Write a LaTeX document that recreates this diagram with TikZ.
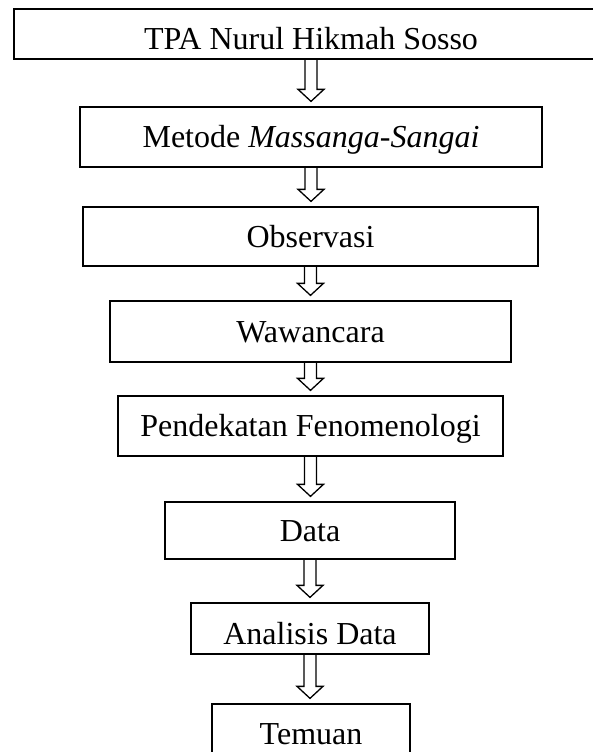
\documentclass[tikz,border=0pt]{standalone}
\usepackage{fontspec}
\setmainfont{Liberation Serif}
\usetikzlibrary{calc}
\tikzset{
  box/.style={draw, line width=1.3pt, rectangle, inner sep=0pt, align=center,
    font=\fontsize{32}{38}\selectfont, text height=21pt, text depth=0pt},
  barrow/.style={draw, line width=1.3pt, line join=miter},
}
\newcommand\blockarrow[2]{%
  \draw[barrow] let \p1=(#1.south), \p2=(#2.north) in
    ({\x1-6pt},\y1) -- ({\x1-6pt},{\y2+17pt}) -- ({\x1-13pt},{\y2+17pt})
    -- (\x1,{\y2+5pt}) -- ({\x1+13pt},{\y2+17pt}) -- ({\x1+6pt},{\y2+17pt})
    -- ({\x1+6pt},\y1);}
\begin{document}
\begin{tikzpicture}[x=1pt,y=-1pt]
\clip (0,0) rectangle (593,752);
\node[box, minimum width=594pt, minimum height=50pt, text height=32pt] (tpa) at (311,34) {TPA Nurul Hikmah Sosso};
\node[box, minimum width=462pt, minimum height=60pt] (metode) at (311,137) {Metode \textit{Massanga-Sangai}};
\node[box, minimum width=455pt, minimum height=59pt] (obs) at (310.5,236.5) {Observasi};
\node[box, minimum width=401pt, minimum height=61pt] (waw) at (310.5,331.5) {Wawancara};
\node[box, minimum width=385pt, minimum height=60pt] (pend) at (310.5,426) {Pendekatan Fenomenologi};
\node[box, minimum width=290pt, minimum height=57pt] (data) at (310,530.5) {Data};
\node[box, minimum width=238pt, minimum height=51pt, text height=31pt] (anal) at (310,628.5) {Analisis Data};
\node[box, minimum width=198pt, minimum height=60pt] (tem) at (311,734) {Temuan};
\blockarrow{tpa}{metode}
\blockarrow{metode}{obs}
\blockarrow{obs}{waw}
\blockarrow{waw}{pend}
\blockarrow{pend}{data}
\blockarrow{data}{anal}
\blockarrow{anal}{tem}
\end{tikzpicture}
\end{document}
